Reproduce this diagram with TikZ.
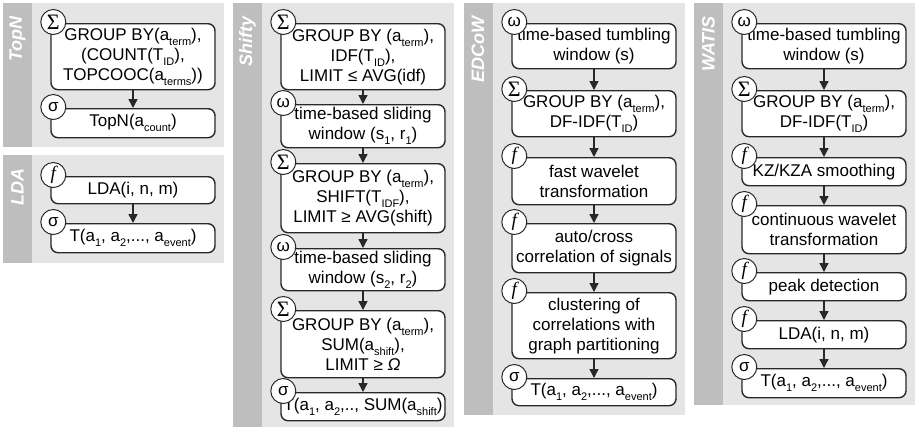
\documentclass[tikz,border=0pt]{standalone}
\usepackage{fontspec}
\setmainfont{Liberation Sans}
\newfontfamily\serifx{Liberation Serif}
\usetikzlibrary{arrows.meta}
\definecolor{stripc}{RGB}{190,190,190}
\definecolor{panelc}{RGB}{229,229,229}
\definecolor{linec}{RGB}{40,40,40}
\newcommand\sbs[1]{\raisebox{-0.3em}{\fontsize{11}{12}\selectfont #1}}
\newcommand\symS{{\serifx\fontsize{22}{22}\selectfont Σ}}
\newcommand\symF{{\serifx\itshape\fontsize{19}{19}\selectfont f}}
\newcommand\opanel[4]{%
  \fill[panelc] (#1,#2) rectangle (#1+221,#3);
  \fill[stripc] (#1,#2) rectangle (#1+29,#3);
  \node[ttl] (title-#4) at (#1+14.5,#2+13) {#4};
}
\begin{document}
\begin{tikzpicture}[x=1pt,y=-1pt,
  opbox/.style={draw=linec, line width=1.4pt, fill=white, rounded corners=7pt,
    minimum width=164pt, align=center, inner sep=0pt, anchor=north,
    font=\fontsize{17}{20}\selectfont},
  opsym/.style={circle, draw=linec, line width=1pt, fill=white, minimum size=25pt,
    inner sep=0pt, font=\fontsize{17}{17}\selectfont},
  arr/.style={draw=linec, line width=1.4pt, -{Triangle[width=9pt,length=9pt]}},
  ttl/.style={rotate=90, anchor=east, text=white,
    font=\fontsize{18}{18}\selectfont\bfseries\itshape, inner sep=0pt},
]
\useasboundingbox (0,0) rectangle (919,432);

% panels
\opanel{3}{3}{147}{TopN}
\opanel{3}{155}{263}{LDA}
\opanel{233}{3}{427}{Shifty}
\opanel{463.5}{3}{415}{EDCoW}
\opanel{694}{3}{405}{WATIS}

% TopN
\node[opbox, minimum height=66pt] (tn1) at (133,23) {GROUP BY(a\sbs{term}),\\(COUNT(T\sbs{ID}),\\TOPCOOC(a\sbs{terms}))};
\node[opbox, minimum height=29pt] (tn2) at (133,108) {TopN(a\sbs{count})};
% LDA
\node[opbox, minimum height=27pt] (ld1) at (133,176) {LDA(i, n, m)};
\node[opbox, minimum height=29pt] (ld2) at (133,223) {T(a\sbs{1}, a\sbs{2},..., a\sbs{event})};
% Shifty
\node[opbox, minimum height=66pt] (s1) at (363,23) {GROUP BY (a\sbs{term}),\\IDF(T\sbs{ID}),\\LIMIT ≤ AVG(idf)};
\node[opbox, minimum height=43pt] (s2) at (363,104) {time-based sliding\\window (s\sbs{1}, r\sbs{1})};
\node[opbox, minimum height=69pt] (s3) at (363,163) {GROUP BY (a\sbs{term}),\\SHIFT(T\sbs{IDF}),\\LIMIT ≥ AVG(shift)};
\node[opbox, minimum height=42pt] (s4) at (363,248) {time-based sliding\\window (s\sbs{2}, r\sbs{2})};
\node[opbox, minimum height=67pt] (s5) at (363,310) {GROUP BY (a\sbs{term}),\\SUM(a\sbs{shift}),\\LIMIT ≥ \textit{Ω}};
\node[opbox, minimum height=28pt] (s6) at (363,392) {T(a\sbs{1}, a\sbs{2},.., SUM(a\sbs{shift})};
% EDCoW
\node[opbox, minimum height=45pt] (e1) at (594,23) {time-based tumbling\\window (s)};
\node[opbox, minimum height=46pt] (e2) at (594,90) {GROUP BY (a\sbs{term}),\\DF-IDF(T\sbs{ID})};
\node[opbox, minimum height=47pt] (e3) at (594,157) {fast wavelet\\transformation};
\node[opbox, minimum height=49pt] (e4) at (594,223) {auto/cross\\correlation of signals};
\node[opbox, minimum height=66pt] (e5) at (594,292) {clustering of\\correlations with\\graph partitioning};
\node[opbox, minimum height=27pt] (e6) at (594,378) {T(a\sbs{1}, a\sbs{2},..., a\sbs{event})};
% WATIS
\node[opbox, minimum height=45pt] (w1) at (824,23) {time-based tumbling\\window (s)};
\node[opbox, minimum height=46pt] (w2) at (824,90) {GROUP BY (a\sbs{term}),\\DF-IDF(T\sbs{ID})};
\node[opbox, minimum height=28pt] (w3) at (824,157) {KZ/KZA smoothing};
\node[opbox, minimum height=48pt] (w4) at (824,205) {continuous wavelet\\transformation};
\node[opbox, minimum height=28pt] (w5) at (824,272) {peak detection};
\node[opbox, minimum height=28pt] (w6) at (824,320) {LDA(i, n, m)};
\node[opbox, minimum height=29pt] (w7) at (824,368) {T(a\sbs{1}, a\sbs{2},..., a\sbs{event})};

% operator symbols
\foreach \b/\s in {tn1/\symS, tn2/σ, ld1/\symF, ld2/σ,
                   s1/\symS, s2/ω, s3/\symS, s4/ω, s5/\symS, s6/σ,
                   e1/ω, e2/\symS, e3/\symF, e4/\symF, e5/\symF, e6/σ,
                   w1/ω, w2/\symS, w3/\symF, w4/\symF, w5/\symF, w6/\symF, w7/σ}
  \node[opsym] (\b-sym) at ([xshift=3pt,yshift=1pt]\b.north west) {\s};

% arrows
\foreach \a/\b in {tn1/tn2, ld1/ld2, s1/s2, s2/s3, s3/s4, s4/s5, s5/s6,
                   e1/e2, e2/e3, e3/e4, e4/e5, e5/e6,
                   w1/w2, w2/w3, w3/w4, w4/w5, w5/w6, w6/w7}
  \draw[arr] (\a.south) -- (\b.north);
\end{tikzpicture}
\end{document}
